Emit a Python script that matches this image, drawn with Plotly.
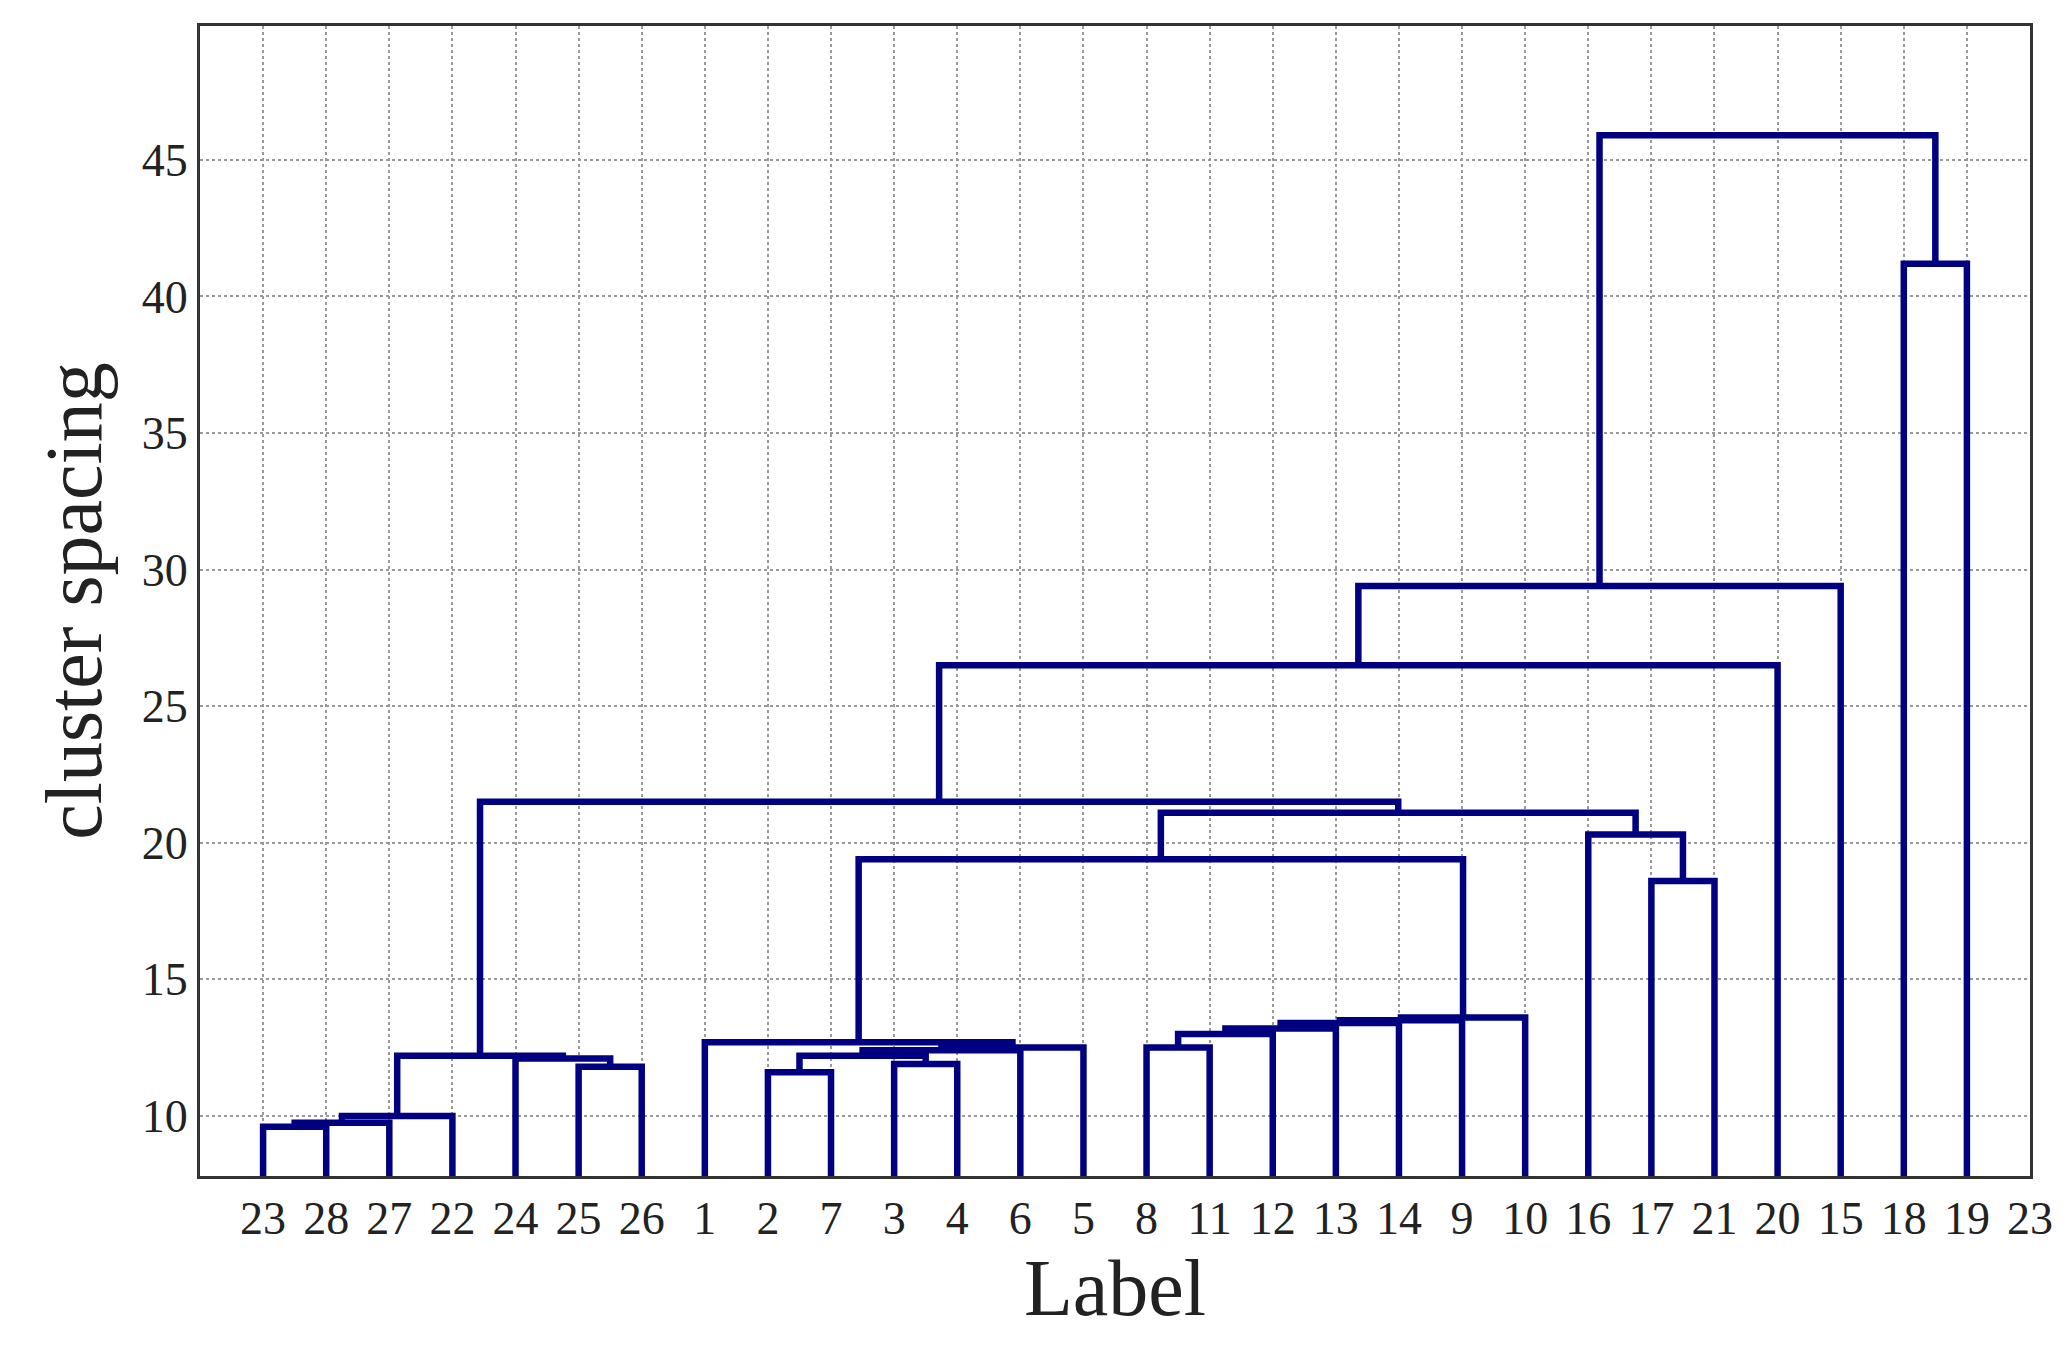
import plotly.graph_objects as go

# leaf labels in display order (position 1..29 on the x axis)
leaf_labels = ["23", "28", "27", "22", "24", "25", "26", "1", "2", "7", "3", "4", "6", "5",
               "8", "11", "12", "13", "14", "9", "10", "16", "17", "21", "20", "15", "18", "19", "23"]

# merges: (node name, left child, right child, height); leaves are "p<position>"
merges = [
    ("a1", "p1", "p2", 9.6),
    ("a2", "a1", "p3", 9.75),
    ("a3", "a2", "p4", 10.0),
    ("a4", "p6", "p7", 11.8),
    ("a5", "p5", "a4", 12.1),
    ("a6", "a3", "a5", 12.2),
    ("b1", "p9", "p10", 11.6),
    ("b2", "p11", "p12", 11.9),
    ("b3", "b1", "b2", 12.2),
    ("b4", "b3", "p13", 12.4),
    ("b5", "b4", "p14", 12.5),
    ("b6", "p8", "b5", 12.7),
    ("c1", "p15", "p16", 12.5),
    ("c2", "c1", "p17", 13.0),
    ("c3", "c2", "p18", 13.2),
    ("c4", "c3", "p19", 13.4),
    ("c5", "c4", "p20", 13.5),
    ("c6", "c5", "p21", 13.6),
    ("bc", "b6", "c6", 19.4),
    ("d1", "p23", "p24", 18.6),
    ("d2", "p22", "d1", 20.3),
    ("bcd", "bc", "d2", 21.1),
    ("abcd", "a6", "bcd", 21.5),
    ("e1", "abcd", "p25", 26.5),
    ("e2", "e1", "p26", 29.4),
    ("f", "p27", "p28", 41.2),
    ("root", "e2", "f", 45.9),
]

y_min, y_max = 7.8, 49.9

pos = {"p%d" % i: (float(i), y_min) for i in range(1, 29)}
xs, ys = [], []
for name, left, right, h in merges:
    x1, h1 = pos[left]
    x2, h2 = pos[right]
    xs += [x1, x1, x2, x2, None]
    ys += [h1, h, h, h2, None]
    pos[name] = ((x1 + x2) / 2, h)

fig = go.Figure()
fig.add_trace(go.Scatter(x=xs, y=ys, mode="lines",
                         line=dict(color="#000080", width=6.5),
                         hoverinfo="skip", showlegend=False))

font = "Liberation Serif, Times New Roman, serif"
fig.update_layout(
    width=2066, height=1364,
    paper_bgcolor="white", plot_bgcolor="white",
    margin=dict(l=192, r=44, t=18, b=196),
    font=dict(family=font, color="#222222", size=46),
)
grid = dict(showgrid=True, gridcolor="#999999", griddash="dot", gridwidth=1.5,
            showline=True, linecolor="#333333", linewidth=3, mirror=True,
            zeroline=False, ticks="")
fig.update_xaxes(range=[0, 29], tickmode="array",
                 tickvals=list(range(1, len(leaf_labels) + 1)), ticktext=leaf_labels,
                 title=dict(text="Label", font=dict(size=80, family=font), standoff=10),
                 tickfont=dict(size=46), **grid)
fig.update_yaxes(range=[y_min, y_max], dtick=5, tick0=10,
                 title=dict(text="cluster spacing", font=dict(size=80, family=font), standoff=14),
                 tickfont=dict(size=46), **grid)

fig.write_html("out.html")
